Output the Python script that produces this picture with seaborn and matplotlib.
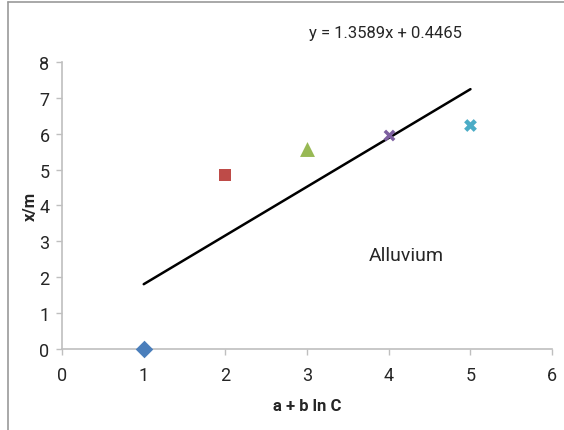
"""
Isoterma de adsorcao - Alluvium: x/m contra a + b ln C, com reta ajustada.
"""

import numpy as np
import matplotlib
matplotlib.use("Agg")
import matplotlib.pyplot as plt
from matplotlib.lines import Line2D
import seaborn as sns

X_VALS = [1, 2, 3, 4, 5]
Y_VALS = [0.0, 4.86, 5.57, 5.95, 6.24]
MARCADORES = ["D", "s", "^", "x", "X"]
CORES = ["#4a7ebb", "#be4b48", "#98b954", "#7d60a0", "#4bacc6"]
SLOPE = 1.3589
INTERCEPT = 0.4465
X_TICKS = [0, 1, 2, 3, 4, 5, 6]
Y_TICKS = [0, 1, 2, 3, 4, 5, 6, 7, 8]

CINZA = "#bfbfbf"
TAMANHOS = {"D": 80, "s": 85, "^": 115, "X": 85}


def main():
    sns.set_style("white")
    plt.rcParams["font.family"] = ["Roboto", "DejaVu Sans"]

    fig = plt.figure(figsize=(5.64, 4.31), dpi=100)
    ax = fig.add_axes([0.110, 0.188, 0.869, 0.666])

    # reta de regressao
    xl = np.array([X_VALS[0], X_VALS[-1]])
    yl = SLOPE * xl + INTERCEPT
    sns.lineplot(x=xl, y=yl, ax=ax, color="black", linewidth=1.8)

    for x, y, m, c in zip(X_VALS, Y_VALS, MARCADORES, CORES):
        if m == "x":
            sns.scatterplot(x=[x], y=[y], ax=ax, marker=m, color=c, s=45,
                            linewidth=2.5, zorder=3, clip_on=False)
        else:
            sns.scatterplot(x=[x], y=[y], ax=ax, marker=m, color=c,
                            s=TAMANHOS[m], linewidth=0, zorder=3, clip_on=False)

    ax.set_xlim(0, 6)
    ax.set_ylim(0, 8)
    ax.set_xticks(X_TICKS)
    ax.set_yticks(Y_TICKS)
    ax.tick_params(axis="both", labelsize=13, color=CINZA, length=4,
                   width=1, direction="out", bottom=True, left=True)
    ax.tick_params(axis="x", pad=8)
    ax.tick_params(axis="y", pad=5)
    sns.despine(ax=ax)
    for lado in ["left", "bottom"]:
        ax.spines[lado].set_color(CINZA)
        ax.spines[lado].set_linewidth(1.2)

    ax.set_xlabel("a + b ln C", fontsize=12, fontweight="bold", labelpad=10)
    ax.set_ylabel("x/m", fontsize=12, fontweight="bold", labelpad=1)

    ax.text(3.75, 2.62, "Alluvium", fontsize=14, ha="left", va="center")
    fig.text(0.683, 0.923, f"y = {SLOPE:.4f}x + {INTERCEPT:.4f}",
             fontsize=12, ha="center", va="center")

    # moldura cinza (esquerda e topo)
    fig.add_artist(Line2D([8 / 564, 8 / 564], [0, 1 - 3 / 431],
                          transform=fig.transFigure, color="#999999", lw=1.2))
    fig.add_artist(Line2D([8 / 564, 1], [1 - 3 / 431, 1 - 3 / 431],
                          transform=fig.transFigure, color="#999999", lw=1.2))

    fig.savefig("out.png", dpi=100)
    plt.close(fig)


if __name__ == "__main__":
    main()
